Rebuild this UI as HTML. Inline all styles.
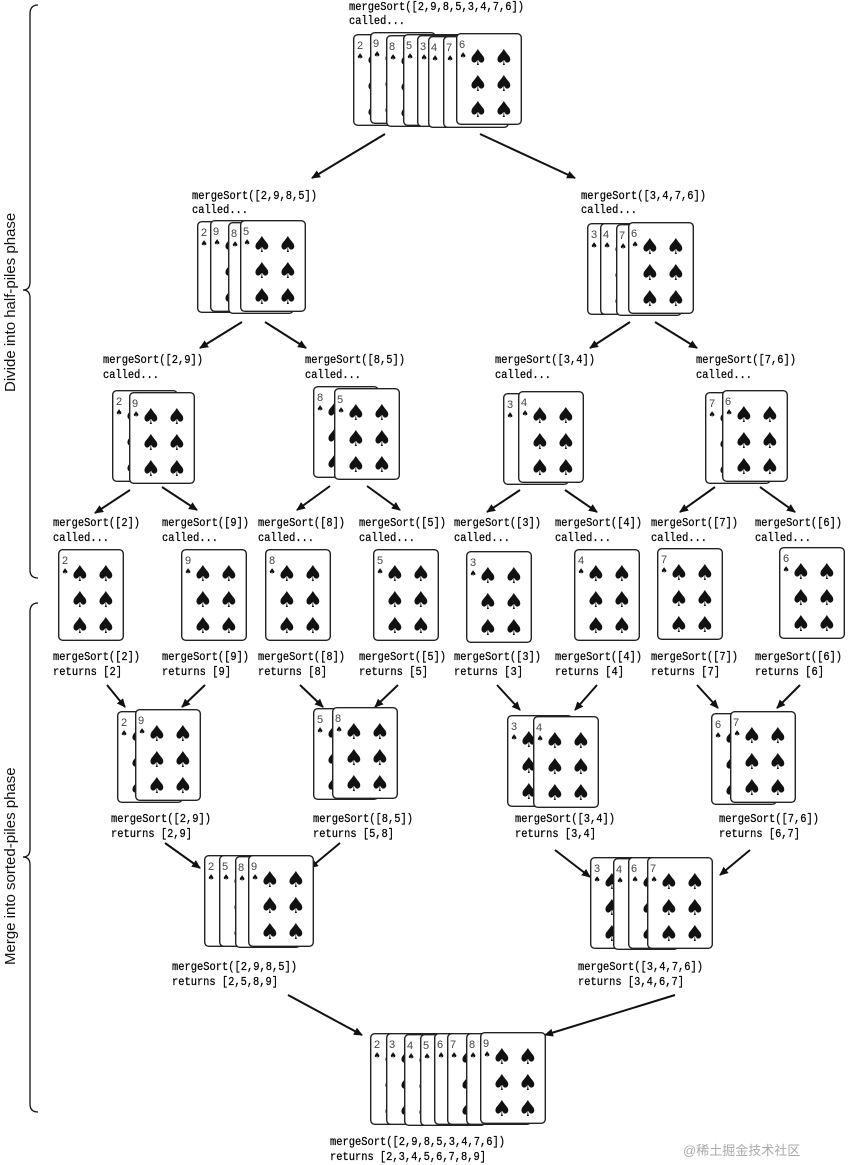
<!DOCTYPE html>
<html><head><meta charset="utf-8"><style>
body{margin:0;background:#fff}
svg{display:block}
.l{font-family:"Liberation Mono",monospace;font-size:12px;fill:#000;stroke:#000;stroke-width:0.25}
.r{font-family:"Liberation Sans",sans-serif;font-size:11px;fill:#444}
.ph{font-family:"Liberation Sans",sans-serif;font-size:15px;fill:#111}
</style></head><body>
<svg width="850" height="1165" viewBox="0 0 850 1165" xmlns="http://www.w3.org/2000/svg">
<defs>
<marker id="a" markerWidth="10" markerHeight="10" refX="8" refY="5" orient="auto" markerUnits="userSpaceOnUse"><path d="M0,1 L9,5 L0,9 Z" fill="#111"/></marker>
<symbol id="cb" width="66" height="92" overflow="visible">
<rect x="0.7" y="0.7" width="64.6" height="90.6" rx="4" fill="#fff" stroke="#222" stroke-width="1.4"/>
<text x="3.5" y="25" font-size="8" fill="#111" font-family="DejaVu Sans">♠</text>
<text x="12" y="32" font-size="22" fill="#111" font-family="DejaVu Sans">♠</text>
<text x="38" y="32" font-size="22" fill="#111" font-family="DejaVu Sans">♠</text>
<text x="12" y="58" font-size="22" fill="#111" font-family="DejaVu Sans">♠</text>
<text x="38" y="58" font-size="22" fill="#111" font-family="DejaVu Sans">♠</text>
<text x="12" y="84" font-size="22" fill="#111" font-family="DejaVu Sans">♠</text>
<text x="38" y="84" font-size="22" fill="#111" font-family="DejaVu Sans">♠</text>
</symbol>
</defs>
<g stroke="#111" stroke-width="2" marker-end="url(#a)">
<line x1="385" y1="134" x2="312" y2="178"/><line x1="480" y1="134" x2="575" y2="178"/>
<line x1="242" y1="322" x2="200" y2="348"/><line x1="265" y1="322" x2="306" y2="348"/>
<line x1="630" y1="322" x2="590" y2="348"/><line x1="655" y1="322" x2="697" y2="348"/>
<line x1="130" y1="490" x2="95" y2="513"/><line x1="162" y1="487" x2="197" y2="510"/>
<line x1="330" y1="486" x2="297" y2="510"/><line x1="367" y1="486" x2="400" y2="510"/>
<line x1="520" y1="490" x2="487" y2="512"/><line x1="565" y1="490" x2="597" y2="512"/>
<line x1="715" y1="487" x2="680" y2="512"/><line x1="760" y1="487" x2="795" y2="512"/>
<line x1="107" y1="685" x2="125" y2="707"/><line x1="205" y1="685" x2="182" y2="707"/>
<line x1="300" y1="685" x2="323" y2="707"/><line x1="398" y1="685" x2="375" y2="707"/>
<line x1="497" y1="685" x2="520" y2="710"/><line x1="597" y1="685" x2="575" y2="710"/>
<line x1="697" y1="685" x2="718" y2="708"/><line x1="800" y1="685" x2="777" y2="708"/>
<line x1="165" y1="843" x2="200" y2="868"/><line x1="340" y1="843" x2="310" y2="868"/>
<line x1="555" y1="850" x2="590" y2="877"/><line x1="750" y1="850" x2="720" y2="875"/>
<line x1="288" y1="995" x2="362" y2="1035"/><line x1="675" y1="995" x2="545" y2="1035"/>
</g>
<g fill="none" stroke="#111" stroke-width="1.3">
<path d="M38,5 Q30,5 30,14 L30,282 Q30,290 23,290 Q30,290 30,298 L30,570 Q30,578 38,578"/>
<path d="M38,603 Q30,603 30,612 L30,849 Q30,857 23,857 Q30,857 30,865 L30,1104 Q30,1112 38,1112"/>
</g>
<text class="ph" transform="translate(15,392) rotate(-90)">Divide into half-piles phase</text>
<text class="ph" transform="translate(15,965) rotate(-90)">Merge into sorted-piles phase</text>

<g class="l" lengthAdjust="spacingAndGlyphs">
<text x="349" y="10" textLength="175" lengthAdjust="spacingAndGlyphs">mergeSort([2,9,8,5,3,4,7,6])</text><text x="349" y="24" textLength="56" lengthAdjust="spacingAndGlyphs">called...</text>
<text x="192" y="199" textLength="125" lengthAdjust="spacingAndGlyphs">mergeSort([2,9,8,5])</text><text x="192" y="213" textLength="56" lengthAdjust="spacingAndGlyphs">called...</text>
<text x="581" y="199" textLength="125" lengthAdjust="spacingAndGlyphs">mergeSort([3,4,7,6])</text><text x="581" y="213" textLength="56" lengthAdjust="spacingAndGlyphs">called...</text>
<text x="103" y="363" textLength="100" lengthAdjust="spacingAndGlyphs">mergeSort([2,9])</text><text x="103" y="378" textLength="56" lengthAdjust="spacingAndGlyphs">called...</text>
<text x="305" y="363" textLength="100" lengthAdjust="spacingAndGlyphs">mergeSort([8,5])</text><text x="305" y="378" textLength="56" lengthAdjust="spacingAndGlyphs">called...</text>
<text x="495" y="363" textLength="100" lengthAdjust="spacingAndGlyphs">mergeSort([3,4])</text><text x="495" y="378" textLength="56" lengthAdjust="spacingAndGlyphs">called...</text>
<text x="696" y="363" textLength="100" lengthAdjust="spacingAndGlyphs">mergeSort([7,6])</text><text x="696" y="378" textLength="56" lengthAdjust="spacingAndGlyphs">called...</text>
<text x="53" y="526" textLength="87" lengthAdjust="spacingAndGlyphs">mergeSort([2])</text><text x="53" y="541" textLength="56" lengthAdjust="spacingAndGlyphs">called...</text>
<text x="162" y="526" textLength="87" lengthAdjust="spacingAndGlyphs">mergeSort([9])</text><text x="162" y="541" textLength="56" lengthAdjust="spacingAndGlyphs">called...</text>
<text x="258" y="526" textLength="87" lengthAdjust="spacingAndGlyphs">mergeSort([8])</text><text x="258" y="541" textLength="56" lengthAdjust="spacingAndGlyphs">called...</text>
<text x="359" y="526" textLength="87" lengthAdjust="spacingAndGlyphs">mergeSort([5])</text><text x="359" y="541" textLength="56" lengthAdjust="spacingAndGlyphs">called...</text>
<text x="454" y="526" textLength="87" lengthAdjust="spacingAndGlyphs">mergeSort([3])</text><text x="454" y="541" textLength="56" lengthAdjust="spacingAndGlyphs">called...</text>
<text x="555" y="526" textLength="87" lengthAdjust="spacingAndGlyphs">mergeSort([4])</text><text x="555" y="541" textLength="56" lengthAdjust="spacingAndGlyphs">called...</text>
<text x="651" y="526" textLength="87" lengthAdjust="spacingAndGlyphs">mergeSort([7])</text><text x="651" y="541" textLength="56" lengthAdjust="spacingAndGlyphs">called...</text>
<text x="755" y="526" textLength="87" lengthAdjust="spacingAndGlyphs">mergeSort([6])</text><text x="755" y="541" textLength="56" lengthAdjust="spacingAndGlyphs">called...</text>
<text x="53" y="660" textLength="87" lengthAdjust="spacingAndGlyphs">mergeSort([2])</text><text x="53" y="675" textLength="69" lengthAdjust="spacingAndGlyphs">returns [2]</text>
<text x="162" y="660" textLength="87" lengthAdjust="spacingAndGlyphs">mergeSort([9])</text><text x="162" y="675" textLength="69" lengthAdjust="spacingAndGlyphs">returns [9]</text>
<text x="258" y="660" textLength="87" lengthAdjust="spacingAndGlyphs">mergeSort([8])</text><text x="258" y="675" textLength="69" lengthAdjust="spacingAndGlyphs">returns [8]</text>
<text x="359" y="660" textLength="87" lengthAdjust="spacingAndGlyphs">mergeSort([5])</text><text x="359" y="675" textLength="69" lengthAdjust="spacingAndGlyphs">returns [5]</text>
<text x="454" y="660" textLength="87" lengthAdjust="spacingAndGlyphs">mergeSort([3])</text><text x="454" y="675" textLength="69" lengthAdjust="spacingAndGlyphs">returns [3]</text>
<text x="555" y="660" textLength="87" lengthAdjust="spacingAndGlyphs">mergeSort([4])</text><text x="555" y="675" textLength="69" lengthAdjust="spacingAndGlyphs">returns [4]</text>
<text x="651" y="660" textLength="87" lengthAdjust="spacingAndGlyphs">mergeSort([7])</text><text x="651" y="675" textLength="69" lengthAdjust="spacingAndGlyphs">returns [7]</text>
<text x="755" y="660" textLength="87" lengthAdjust="spacingAndGlyphs">mergeSort([6])</text><text x="755" y="675" textLength="69" lengthAdjust="spacingAndGlyphs">returns [6]</text>
<text x="111" y="822" textLength="100" lengthAdjust="spacingAndGlyphs">mergeSort([2,9])</text><text x="111" y="837" textLength="81" lengthAdjust="spacingAndGlyphs">returns [2,9]</text>
<text x="313" y="822" textLength="100" lengthAdjust="spacingAndGlyphs">mergeSort([8,5])</text><text x="313" y="837" textLength="81" lengthAdjust="spacingAndGlyphs">returns [5,8]</text>
<text x="515" y="822" textLength="100" lengthAdjust="spacingAndGlyphs">mergeSort([3,4])</text><text x="515" y="837" textLength="81" lengthAdjust="spacingAndGlyphs">returns [3,4]</text>
<text x="719" y="822" textLength="100" lengthAdjust="spacingAndGlyphs">mergeSort([7,6])</text><text x="719" y="837" textLength="81" lengthAdjust="spacingAndGlyphs">returns [6,7]</text>
<text x="172" y="970" textLength="125" lengthAdjust="spacingAndGlyphs">mergeSort([2,9,8,5])</text><text x="172" y="985" textLength="106" lengthAdjust="spacingAndGlyphs">returns [2,5,8,9]</text>
<text x="578" y="970" textLength="125" lengthAdjust="spacingAndGlyphs">mergeSort([3,4,7,6])</text><text x="578" y="985" textLength="106" lengthAdjust="spacingAndGlyphs">returns [3,4,6,7]</text>
<text x="330" y="1145" textLength="175" lengthAdjust="spacingAndGlyphs">mergeSort([2,9,8,5,3,4,7,6])</text><text x="330" y="1160" textLength="156" lengthAdjust="spacingAndGlyphs">returns [2,3,4,5,6,7,8,9]</text>
</g>

<g class="r">
<use href="#cb" x="353" y="34"/><text x="357" y="49">2</text>
<use href="#cb" x="370" y="32"/><text x="373" y="47">9</text>
<use href="#cb" x="386" y="35"/><text x="389" y="50">8</text>
<use href="#cb" x="403" y="34"/><text x="406" y="49">5</text>
<use href="#cb" x="417" y="35"/><text x="420" y="50">3</text>
<use href="#cb" x="428" y="36"/><text x="431" y="51">4</text>
<use href="#cb" x="443" y="36"/><text x="446" y="51">7</text>
<use href="#cb" x="456" y="33"/><text x="459" y="48">6</text>
<use href="#cb" x="197" y="221"/><text x="201" y="236">2</text>
<use href="#cb" x="210" y="220"/><text x="213" y="235">9</text>
<use href="#cb" x="228" y="222"/><text x="231" y="237">8</text>
<use href="#cb" x="240" y="220"/><text x="243" y="235">5</text>
<use href="#cb" x="587" y="223"/><text x="591" y="238">3</text>
<use href="#cb" x="600" y="223"/><text x="603" y="238">4</text>
<use href="#cb" x="616" y="224"/><text x="619" y="239">7</text>
<use href="#cb" x="628" y="222"/><text x="631" y="237">6</text>
<use href="#cb" x="112" y="390"/><text x="116" y="405">2</text>
<use href="#cb" x="129" y="392"/><text x="132" y="407">9</text>
<use href="#cb" x="313" y="386"/><text x="317" y="401">8</text>
<use href="#cb" x="334" y="388"/><text x="337" y="403">5</text>
<use href="#cb" x="503" y="393"/><text x="507" y="408">3</text>
<use href="#cb" x="518" y="391"/><text x="521" y="406">4</text>
<use href="#cb" x="705" y="392"/><text x="709" y="407">7</text>
<use href="#cb" x="722" y="390"/><text x="725" y="405">6</text>
<use href="#cb" x="58" y="549"/><text x="62" y="564">2</text>
<use href="#cb" x="181" y="549"/><text x="185" y="564">9</text>
<use href="#cb" x="265" y="549"/><text x="269" y="564">8</text>
<use href="#cb" x="373" y="549"/><text x="377" y="564">5</text>
<use href="#cb" x="466" y="551"/><text x="470" y="566">3</text>
<use href="#cb" x="574" y="549"/><text x="578" y="564">4</text>
<use href="#cb" x="657" y="548"/><text x="661" y="563">7</text>
<use href="#cb" x="779" y="547"/><text x="783" y="562">6</text>
<use href="#cb" x="117" y="711"/><text x="121" y="726">2</text>
<use href="#cb" x="135" y="709"/><text x="138" y="724">9</text>
<use href="#cb" x="313" y="708"/><text x="317" y="723">5</text>
<use href="#cb" x="332" y="707"/><text x="335" y="722">8</text>
<use href="#cb" x="507" y="715"/><text x="511" y="730">3</text>
<use href="#cb" x="533" y="716"/><text x="536" y="731">4</text>
<use href="#cb" x="711" y="713"/><text x="715" y="728">6</text>
<use href="#cb" x="730" y="711"/><text x="733" y="726">7</text>
<use href="#cb" x="204" y="855"/><text x="208" y="870">2</text>
<use href="#cb" x="219" y="855"/><text x="222" y="870">5</text>
<use href="#cb" x="235" y="856"/><text x="238" y="871">8</text>
<use href="#cb" x="248" y="855"/><text x="251" y="870">9</text>
<use href="#cb" x="590" y="857"/><text x="594" y="872">3</text>
<use href="#cb" x="613" y="858"/><text x="616" y="873">4</text>
<use href="#cb" x="628" y="857"/><text x="631" y="872">6</text>
<use href="#cb" x="647" y="857"/><text x="650" y="872">7</text>
<use href="#cb" x="370" y="1033"/><text x="374" y="1048">2</text>
<use href="#cb" x="386" y="1033"/><text x="389" y="1048">3</text>
<use href="#cb" x="404" y="1034"/><text x="407" y="1049">4</text>
<use href="#cb" x="420" y="1034"/><text x="423" y="1049">5</text>
<use href="#cb" x="434" y="1033"/><text x="437" y="1048">6</text>
<use href="#cb" x="447" y="1033"/><text x="450" y="1048">7</text>
<use href="#cb" x="466" y="1033"/><text x="469" y="1048">8</text>
<use href="#cb" x="480" y="1032"/><text x="483" y="1047">9</text>
</g>
<text x="683" y="1155" font-family="Liberation Sans,'Noto Sans CJK SC',sans-serif" font-size="13" fill="#aaa">@稀土掘金技术社区</text>
</svg>
</body></html>
